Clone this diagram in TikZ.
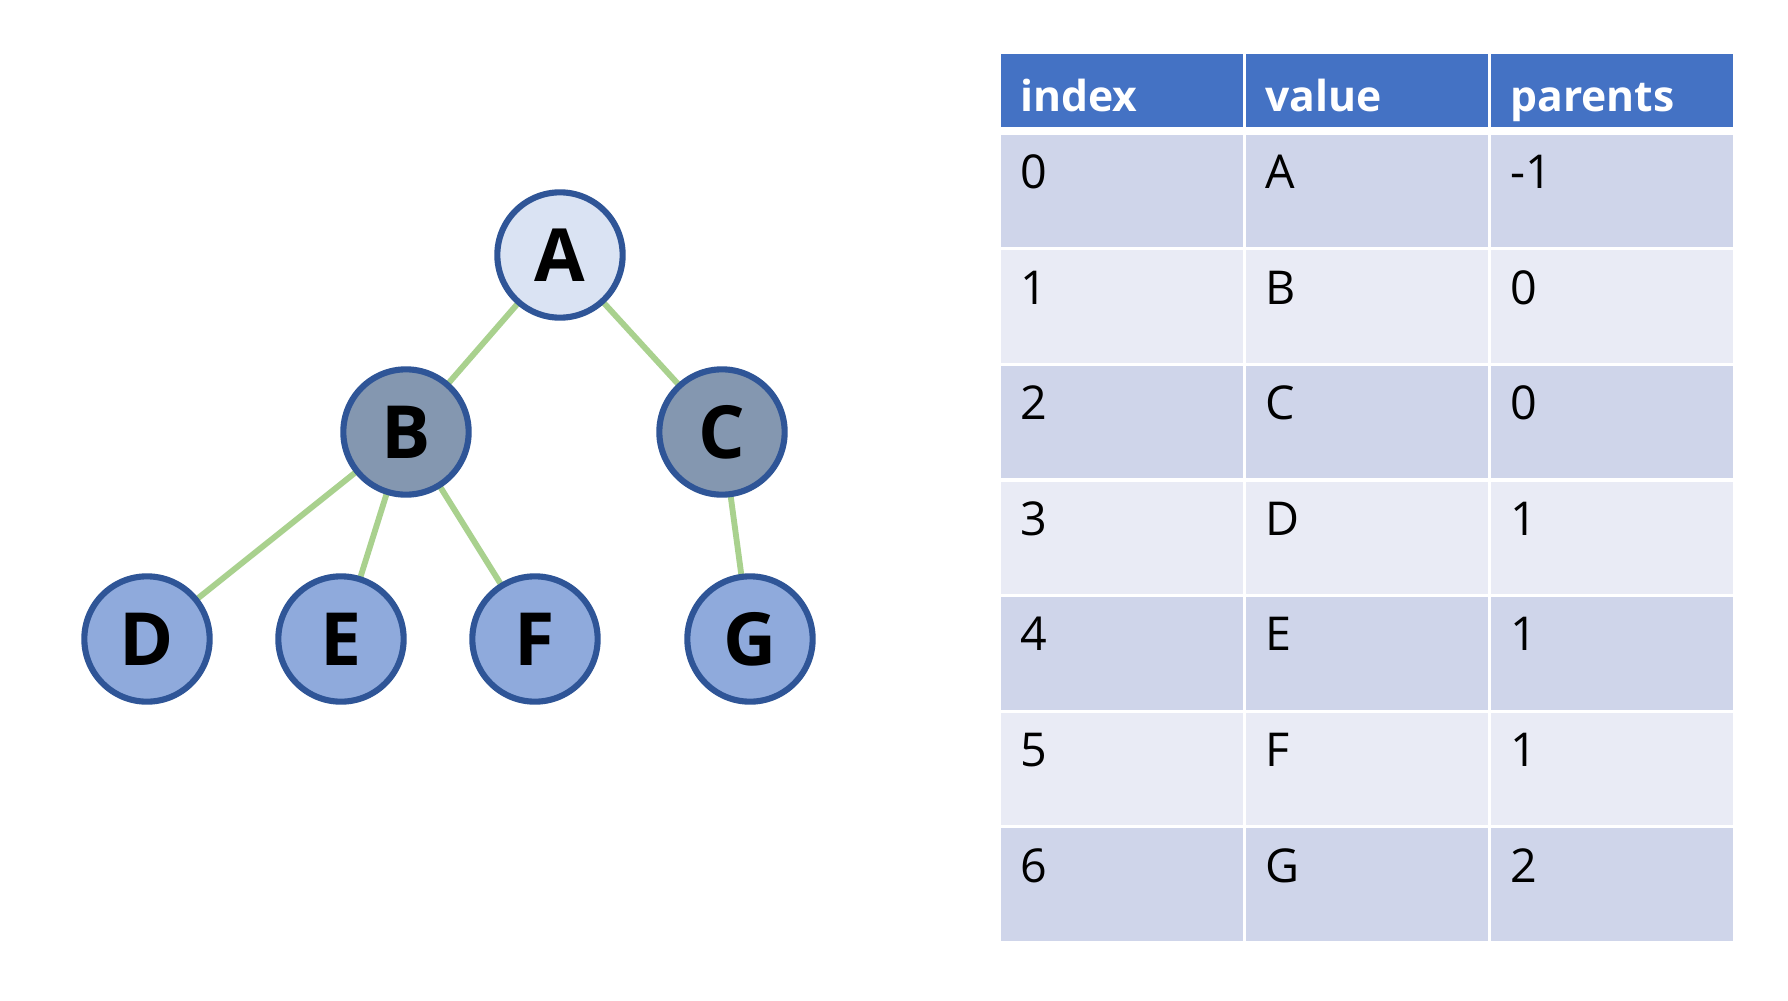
\documentclass[tikz,border=0pt]{standalone}
\usepackage{fontspec}
\setmainfont{Open Sans}
\definecolor{hdr}{HTML}{4472C4}
\definecolor{rowdark}{HTML}{CFD5EA}
\definecolor{rowlight}{HTML}{E9EBF5}
\definecolor{nodeborder}{HTML}{2F5597}
\definecolor{fillA}{HTML}{DAE3F3}
\definecolor{fillB}{HTML}{8497B0}
\definecolor{fillD}{HTML}{8FAADC}
\definecolor{edgegreen}{HTML}{A9D18E}
\tikzset{
  treenode/.style={circle, draw=nodeborder, line width=4.6pt, minimum size=94pt, inner sep=0pt,
    font=\fontsize{55}{62}\selectfont\bfseries},
  treeedge/.style={draw=edgegreen, line width=4.4pt},
  cellbox/.style={rectangle, inner sep=0pt, anchor=north west, minimum width=242*0.75pt},
  celltext/.style={anchor=base west, inner sep=0pt, font=\fontsize{35}{40}\selectfont},
  hdrtext/.style={anchor=base west, inner sep=0pt, text=white, font=\fontsize{32}{38}\selectfont\bfseries},
}
\begin{document}
\begin{tikzpicture}[x=0.75pt,y=-0.75pt]
\useasboundingbox[fill=white] (0,0) rectangle (1788,1000);
% edges first
\coordinate (pA) at (560,255);
\coordinate (pB) at (406,432);
\coordinate (pC) at (722,432);
\coordinate (pD) at (147,639);
\coordinate (pE) at (341,639);
\coordinate (pF) at (535,639);
\coordinate (pG) at (750,639);
\draw[treeedge] (pA) -- (pB);
\draw[treeedge] (pA) -- (pC);
\draw[treeedge] (pB) -- (pD);
\draw[treeedge] (pB) -- (pE);
\draw[treeedge] (pB) -- (pF);
\draw[treeedge] (pC) -- (pG);
% nodes
\node[treenode, fill=fillA] (A) at (pA) {A};
\node[treenode, fill=fillB] (B) at (pB) {B};
\node[treenode, fill=fillB] (C) at (pC) {C};
\node[treenode, fill=fillD] (D) at (pD) {D};
\node[treenode, fill=fillD] (E) at (pE) {E};
\node[treenode, fill=fillD] (F) at (pF) {F};
\node[treenode, fill=fillD] (G) at (pG) {G};
% table header
\foreach \c/\xl/\t in {1/1001/index, 2/1246/value, 3/1491/parents}{
  \node[cellbox, fill=hdr, minimum height=73*0.75pt] (h-\c) at (\xl,54) {};
  \node[hdrtext] (ht-\c) at (\xl+19,111) {\t};
}
% table rows
\foreach \r/\v/\p in {0/A/-1, 1/B/0, 2/C/0, 3/D/1, 4/E/1, 5/F/1, 6/G/2}{
  \pgfmathsetmacro{\yt}{134.5+115.6*\r}
  \pgfmathtruncatemacro{\odd}{mod(\r,2)}
  \ifnum\odd=0 \def\rc{rowdark}\else\def\rc{rowlight}\fi
  \node[cellbox, fill=\rc, minimum height=112.5*0.75pt] (c-\r-1) at (1001,\yt) {};
  \node[cellbox, fill=\rc, minimum height=112.5*0.75pt] (c-\r-2) at (1246,\yt) {};
  \node[cellbox, fill=\rc, minimum height=112.5*0.75pt] (c-\r-3) at (1491,\yt) {};
  \node[celltext] (t-\r-1) at (1020,\yt+54) {\r};
  \node[celltext] (t-\r-2) at (1265,\yt+54) {\v};
  \node[celltext] (t-\r-3) at (1510,\yt+54) {\p};
}
\end{tikzpicture}
\end{document}
